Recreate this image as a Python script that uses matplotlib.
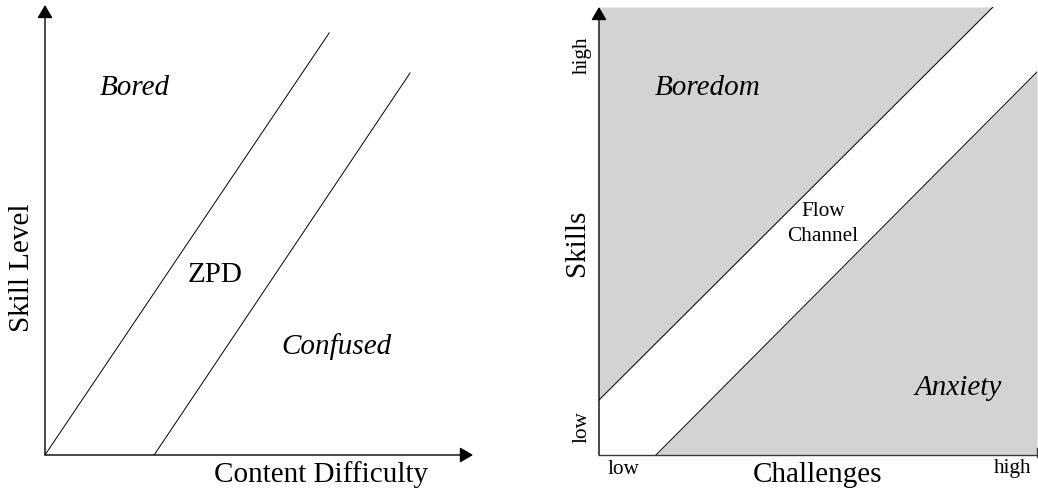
import numpy as np
import matplotlib
matplotlib.use('Agg')
import matplotlib.pyplot as plt

plt.rcParams['font.family'] = ['Liberation Serif', 'DejaVu Serif']

# left panel: ZPD band (axes fractions, arrow tips at 1)
zpd_upper_x = [0.0, 0.664]
zpd_upper_y = [0.0, 0.938]
zpd_lower_x = [0.255, 0.853]
zpd_lower_y = [0.0, 0.849]

# right panel: flow channel
flow_upper_x = [0.0, 0.8995]
flow_upper_y = [0.1228, 1.0]
flow_lower_x = [0.130, 1.0]
flow_lower_y = [0.0, 0.855]

gray = '#d3d3d3'
axis_col = '#3a3a3a'
big = 21
small = 15.3


def draw_arrows(ax, xarrow=True):
    hs = '-|>,head_length=0.8,head_width=0.47'
    ax.annotate('', xy=(0, 1), xytext=(0, 0), xycoords='axes fraction',
                arrowprops=dict(arrowstyle=hs, mutation_scale=10, lw=1.0,
                                color='black', shrinkA=0, shrinkB=0))
    if xarrow:
        ax.annotate('', xy=(1, 0), xytext=(0, 0), xycoords='axes fraction',
                    arrowprops=dict(arrowstyle=hs, mutation_scale=10, lw=1.0,
                                    color='black', shrinkA=0, shrinkB=0))


fig = plt.figure(figsize=(10.38, 4.88), dpi=100)

# ---- left: Zone of proximal development
ax1 = fig.add_axes([45 / 1038, 33 / 488, 428 / 1038, 450 / 488])
ax1.set_xlim(0, 1)
ax1.set_ylim(0, 1)
ax1.axis('off')
draw_arrows(ax1)
ax1.plot(zpd_upper_x, zpd_upper_y, color='black', lw=0.7)
ax1.plot(zpd_lower_x, zpd_lower_y, color='black', lw=0.7)

ax1.text(0.210, 0.816, 'Bored', style='italic', fontsize=big, ha='center', va='center')
ax1.text(0.397, 0.400, 'ZPD', fontsize=big, ha='center', va='center')
ax1.text(0.682, 0.240, 'Confused', style='italic', fontsize=big, ha='center', va='center')
ax1.text(-0.054, 0.416, 'Skill Level', fontsize=big, rotation=90, ha='center', va='center')
ax1.text(0.645, -0.044, 'Content Difficulty', fontsize=big, ha='center', va='center')

# ---- right: Flow channel
ax2 = fig.add_axes([599 / 1038, 33 / 488, 438 / 1038, 448 / 488])
ax2.set_xlim(0, 1)
ax2.set_ylim(0, 1)
ax2.axis('off')

# boredom region (above upper line)
ax2.fill_between(flow_upper_x, flow_upper_y, 1.0, color=gray, lw=0)
# anxiety region (below lower line)
ax2.fill_between(flow_lower_x, 0.0, flow_lower_y, color=gray, lw=0)
ax2.plot(flow_upper_x, flow_upper_y, color='black', lw=0.7)
ax2.plot(flow_lower_x, flow_lower_y, color='black', lw=0.7)

draw_arrows(ax2, xarrow=False)
ax2.plot([0, 1], [0, 0], color=axis_col, lw=1.0, clip_on=False)
ax2.plot([1, 1], [-0.005, 0.016], color=axis_col, lw=1.0, clip_on=False)

ax2.text(0.249, 0.819, 'Boredom', style='italic', fontsize=big, ha='center', va='center')
ax2.text(0.511, 0.515, 'Flow\nChannel', fontsize=small, ha='center', va='center',
         linespacing=1.4)
ax2.text(0.820, 0.150, 'Anxiety', style='italic', fontsize=big, ha='center', va='center')
ax2.text(-0.050, 0.473, 'Skills', fontsize=big, rotation=90, ha='center', va='center')
ax2.text(0.500, -0.044, 'Challenges', fontsize=big, ha='center', va='center')
ax2.text(0.055, -0.032, 'low', fontsize=small, ha='center', va='center')
ax2.text(0.945, -0.030, 'high', fontsize=small, ha='center', va='center')
ax2.text(-0.039, 0.0625, 'low', fontsize=small, rotation=90, ha='center', va='center')
ax2.text(-0.039, 0.893, 'high', fontsize=small, rotation=90, ha='center', va='center')

fig.savefig('out.png', dpi=100)
